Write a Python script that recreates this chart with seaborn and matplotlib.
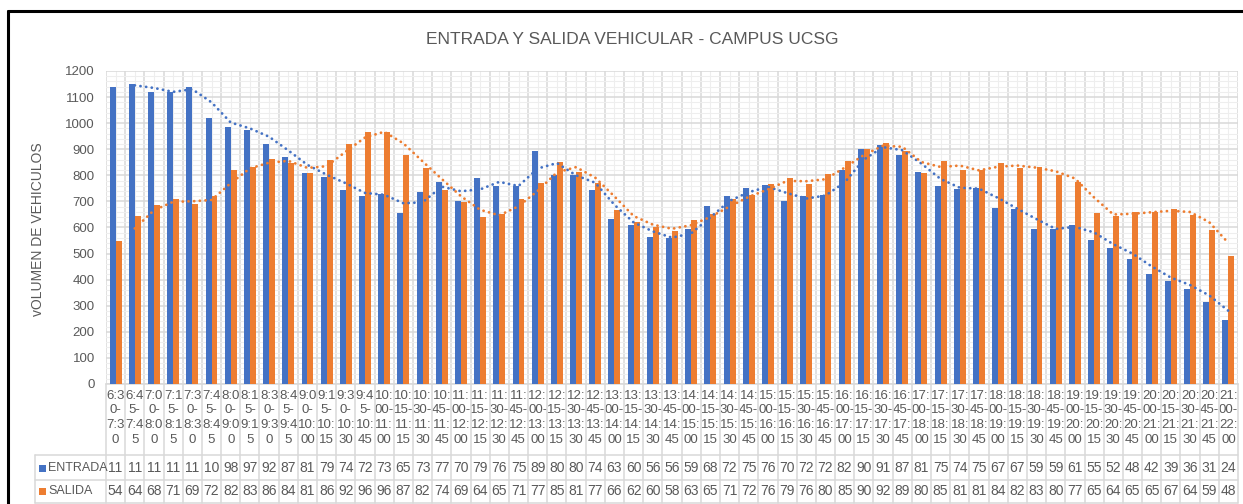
import numpy as np
import pandas as pd
import matplotlib
matplotlib.use("Agg")
import matplotlib.pyplot as plt
import matplotlib.transforms as mtransforms
from matplotlib.lines import Line2D
from matplotlib.patches import Rectangle
import seaborn as sns

# ---------------- data ----------------
periodos = [
    "6:30-7:30", "6:45-7:45", "7:00-8:00", "7:15-8:15", "7:30-8:30", "7:45-8:45",
    "8:00-9:00", "8:15-9:15", "8:30-9:30", "8:45-9:45", "9:00-10:00", "9:15-10:15",
    "9:30-10:30", "9:45-10:45", "10:00-11:00", "10:15-11:15", "10:30-11:30", "10:45-11:45",
    "11:00-12:00", "11:15-12:15", "11:30-12:30", "11:45-12:45", "12:00-13:00", "12:15-13:15",
    "12:30-13:30", "12:45-13:45", "13:00-14:00", "13:15-14:15", "13:30-14:30", "13:45-14:45",
    "14:00-15:00", "14:15-15:15", "14:30-15:30", "14:45-15:45", "15:00-16:00", "15:15-16:15",
    "15:30-16:30", "15:45-16:45", "16:00-17:00", "16:15-17:15", "16:30-17:30", "16:45-17:45",
    "17:00-18:00", "17:15-18:15", "17:30-18:30", "17:45-18:45", "18:00-19:00", "18:15-19:15",
    "18:30-19:30", "18:45-19:45", "19:00-20:00", "19:15-20:15", "19:30-20:30", "19:45-20:45",
    "20:00-21:00", "20:15-21:15", "20:30-21:30", "20:45-21:45", "21:00-22:00",
]
entrada = [
    1140, 1150, 1120, 1120, 1140, 1020, 985, 975, 921, 870, 810, 795,
    744, 721, 730, 656, 737, 776, 702, 790, 760, 758, 894, 800,
    800, 743, 631, 608, 562, 560, 595, 683, 721, 750, 762, 702,
    720, 725, 821, 900, 916, 877, 813, 759, 746, 752, 674, 670,
    594, 595, 610, 552, 520, 480, 422, 394, 365, 314, 247,
]
salida = [
    548, 645, 687, 710, 691, 720, 820, 833, 864, 847, 810, 860,
    922, 968, 966, 879, 828, 744, 696, 640, 653, 710, 771, 851,
    812, 770, 668, 620, 602, 588, 630, 651, 710, 725, 767, 790,
    765, 805, 854, 902, 925, 894, 808, 856, 819, 819, 847, 828,
    831, 800, 776, 654, 646, 659, 658, 670, 649, 592, 489,
]
series = ["ENTRADA", "SALIDA"]
colores = ["#4472C4", "#ED7D31"]
titulo = "ENTRADA Y SALIDA VEHICULAR - CAMPUS UCSG"
ylabel = "vOLUMEN DE VEHICULOS"

# ---------------- style ----------------
sns.set_theme(style="white")
plt.rcParams["font.family"] = ["Liberation Sans", "DejaVu Sans"]
TXT = "#595959"
GRID = "#D9D9D9"
GRID_MIN = "#EEEEEE"

W, H = 1243, 504
fig = plt.figure(figsize=(W / 100, H / 100), dpi=100)
fig.patch.set_facecolor("white")

def fx(px):
    return px / W

def fy(py):
    return 1 - py / H

ax = fig.add_axes([fx(106), fy(384), fx(1238) - fx(106), fy(71) - fy(384)])

df = pd.DataFrame({
    "periodo": periodos * 2,
    "serie": [series[0]] * len(periodos) + [series[1]] * len(periodos),
    "valor": entrada + salida,
})

sns.barplot(data=df, x="periodo", y="valor", hue="serie", order=periodos,
            hue_order=series, palette=colores, width=0.62, gap=0,
            legend=False, ax=ax, saturation=1, zorder=3, linewidth=0,
            edgecolor="none")

# moving average trendlines (2 periods)
n = len(periodos)
xs = np.arange(n)
for vals, col in zip([entrada, salida], colores):
    ma = pd.Series(vals).rolling(2).mean()
    ax.plot(xs, ma, linestyle=(0, (0.05, 2.0)), color=col, lw=2.0,
            dash_capstyle="round", zorder=4)

ax.set_xlim(-0.5, n - 0.5)
ax.set_ylim(0, 1200)
ax.set_yticks(np.arange(0, 1201, 100))
ax.set_yticks(np.arange(0, 1201, 20), minor=True)
ax.set_xticks(xs)
ax.set_xticks(np.arange(-0.5, n, 1), minor=True)
ax.set_axisbelow(True)
ax.grid(which="major", axis="y", color=GRID, lw=1.1, zorder=0)
ax.grid(which="minor", axis="y", color=GRID_MIN, lw=0.8, zorder=0)
ax.grid(which="minor", axis="x", color=GRID, lw=1.1, zorder=0)
ax.grid(which="major", axis="x", color=GRID_MIN, lw=0.8, zorder=0)
for s in ["top", "right", "left"]:
    ax.spines[s].set_visible(False)
ax.spines["bottom"].set_color(GRID)
ax.spines["bottom"].set_linewidth(1.1)
ax.set_xlabel("")
ax.set_ylabel("")


def wrap(lbl):
    a, b = lbl.split("-")
    a = a + "-"
    parts = [a[:3], a[3:], b[:3], b[3:]]
    return "\n".join(parts)

ax.set_xticklabels([wrap(p) for p in periodos], fontsize=9.5, color=TXT,
                   linespacing=1.3, va="top")
ax.tick_params(axis="x", which="both", length=0, pad=4)
ax.tick_params(axis="y", which="both", length=0, pad=8, labelsize=9.5,
               labelcolor=TXT)

# data table under the chart
trans = mtransforms.blended_transform_factory(ax.transData, fig.transFigure)
row_lines = [455, 480, 503]
for py in row_lines:
    fig.add_artist(Line2D([fx(35), fx(1238)], [fy(py), fy(py)], color=GRID, lw=1.1))
fig.add_artist(Line2D([fx(35), fx(35)], [fy(455), fy(503)], color=GRID, lw=1.1))
for b in np.arange(-0.5, n, 1):
    fig.add_artist(Line2D([b, b], [fy(384), fy(503)], color=GRID, lw=1.1,
                          transform=trans))

for vals, py in zip([entrada, salida], [468, 491]):
    for i, v in enumerate(vals):
        fig.text(i, fy(py), str(v)[:2], transform=trans, ha="center",
                 va="center", fontsize=10, color=TXT)

for name, col, py in zip(series, colores, [468, 491]):
    fig.add_artist(Rectangle((fx(39), fy(py) - 3.5 / H), 7 / W, 7 / H,
                             facecolor=col, edgecolor="none"))
    fig.text(fx(48), fy(py), name, ha="left", va="center", fontsize=9,
             color=TXT)

# titles
fig.text(fx(632), fy(40), titulo, ha="center", va="center", fontsize=12.5, color=TXT)
fig.text(fx(38), fy(229), ylabel, ha="center", va="center", rotation=90,
         fontsize=10, color=TXT)

# outer chart border (top and left visible)
fig.add_artist(Line2D([fx(8), fx(1243)], [fy(11), fy(11)], color="black", lw=2.2))
fig.add_artist(Line2D([fx(8), fx(8)], [fy(11), fy(504)], color="black", lw=2.2))

fig.savefig("out.png", dpi=100)
